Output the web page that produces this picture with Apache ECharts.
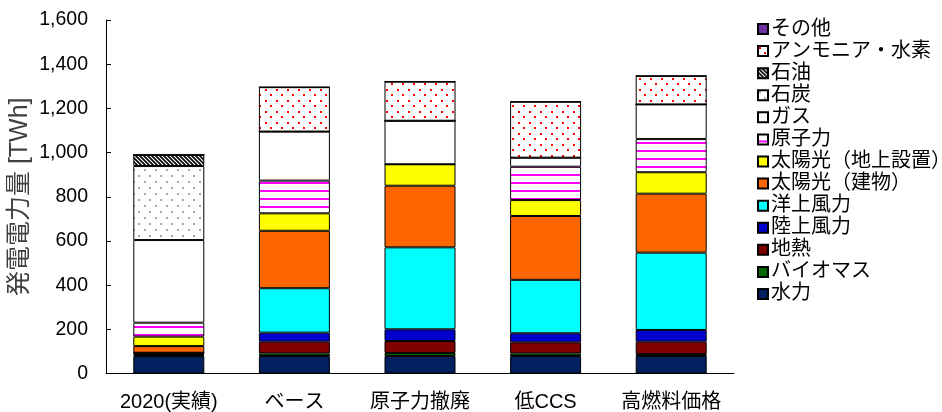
<!DOCTYPE html>
<html>
<head>
<meta charset="utf-8">
<script src="https://cdn.jsdelivr.net/npm/echarts@6/dist/echarts.min.js"></script>
<style>
  html, body { margin: 0; padding: 0; background: #fff; }
  #chart { width: 942px; height: 412px; }
</style>
</head>
<body>
<div id="chart"></div>
<script>
// Scenario categories
const categories = ['2020(実績)', 'ベース', '原子力撤廃', '低CCS', '高燃料価格'];

// Generation by source [TWh], stacked bottom-up
const hydro        = [79, 79, 79, 79, 79];
const biomass      = [5, 12, 14, 12, 9];
const geothermal   = [3, 53, 54, 50, 56];
const windOnshore  = [7, 41, 53, 41, 53];
const windOffshore = [0, 201, 371, 242, 350];
const solarRoof    = [30, 260, 279, 289, 267];
const solarGround  = [43, 79, 97, 72, 97];
const nuclear      = [63, 148, 0, 151, 150];
const gas          = [374, 222, 197, 41, 157];
const coal         = [335, 0, 0, 0, 0];
const oil          = [50, 0, 0, 0, 0];
const ammoniaH2    = [0, 201, 177, 253, 129];
const other        = [0, 0, 0, 0, 0];

// Y axis ticks
const yMin = 0, yMax = 1600, yStep = 200;

// Fill patterns
function tile(w, h, draw) {
  const c = document.createElement('canvas');
  c.width = w; c.height = h;
  const ctx = c.getContext('2d');
  ctx.fillStyle = '#ffffff';
  ctx.fillRect(0, 0, w, h);
  draw(ctx);
  return { image: c, repeat: 'repeat' };
}
const stripePattern = tile(8, 8, ctx => { ctx.fillStyle = '#ff00ff'; ctx.fillRect(0, 6, 8, 2); });
const redDotPattern = tile(11, 11, ctx => {
  ctx.fillStyle = '#ff0000';
  ctx.fillRect(1, 1, 2, 2); ctx.fillRect(6, 6, 2, 2);
});
const greyDotPattern = tile(11, 12, ctx => {
  ctx.fillStyle = '#a8a8a8';
  ctx.fillRect(1, 1, 2, 2); ctx.fillRect(6, 7, 2, 2);
});
const hatchPattern = tile(4, 4, ctx => {
  ctx.strokeStyle = '#000000';
  ctx.lineWidth = 1.6;
  ctx.beginPath();
  ctx.moveTo(-1, -1); ctx.lineTo(5, 5);
  ctx.moveTo(-1, 3); ctx.lineTo(1, 5);
  ctx.moveTo(3, -1); ctx.lineTo(5, 1);
  ctx.stroke();
});

const seriesDefs = [
  ['水力', hydro, '#002060'],
  ['バイオマス', biomass, '#006600'],
  ['地熱', geothermal, '#800000'],
  ['陸上風力', windOnshore, '#0000cc'],
  ['洋上風力', windOffshore, '#00ffff'],
  ['太陽光（建物）', solarRoof, '#ff6600'],
  ['太陽光（地上設置）', solarGround, '#ffff00'],
  ['原子力', nuclear, stripePattern],
  ['ガス', gas, '#ffffff'],
  ['石炭', coal, greyDotPattern],
  ['石油', oil, hatchPattern],
  ['アンモニア・水素', ammoniaH2, redDotPattern],
  ['その他', other, '#7030a0']
];

const font = '"Liberation Sans", Arial, "Noto Sans CJK JP", sans-serif';

const chart = echarts.init(document.getElementById('chart'), null, { renderer: 'canvas' });
chart.setOption({
  animation: false,
  backgroundColor: '#ffffff',
  textStyle: { fontFamily: font },
  grid: { left: 106, right: 208, top: 20, bottom: 38.5, containLabel: false, outerBoundsMode: 'none' },
  legend: {
    orient: 'vertical',
    left: 752,
    top: 14,
    itemWidth: 10,
    itemHeight: 10,
    itemGap: 2.08,
    icon: 'rect',
    data: seriesDefs.map(d => d[0]).reverse(),
    textStyle: { fontSize: 20, lineHeight: 20, color: '#000', fontFamily: font, padding: [0, 0, 0, -2] }
  },
  xAxis: {
    type: 'category',
    data: categories,
    axisLine: { lineStyle: { color: '#000', width: 1 } },
    axisTick: { show: false },
    axisLabel: { interval: 0, color: '#000', fontSize: 20, margin: 19, fontFamily: font }
  },
  yAxis: {
    type: 'value',
    min: yMin,
    max: yMax,
    interval: yStep,
    name: '発電電力量 [TWh]',
    nameLocation: 'middle',
    nameGap: 73,
    nameMoveOverlap: false,
    nameTextStyle: { fontSize: 25, color: '#404040', fontFamily: font },
    splitLine: { show: false },
    axisLine: { show: true, lineStyle: { color: '#000', width: 1 } },
    axisTick: { show: true, inside: true, length: 5, lineStyle: { color: '#000' } },
    axisLabel: {
      color: '#000', fontSize: 19.5, margin: 18, fontFamily: font,
      formatter: v => v.toLocaleString('en-US')
    }
  },
  series: seriesDefs.map(([name, values, color]) => ({
    name,
    type: 'bar',
    stack: 'total',
    data: values,
    barWidth: 71,
    itemStyle: { color, borderColor: '#000', borderWidth: 1 },
    emphasis: { disabled: true }
  }))
});
</script>
</body>
</html>
